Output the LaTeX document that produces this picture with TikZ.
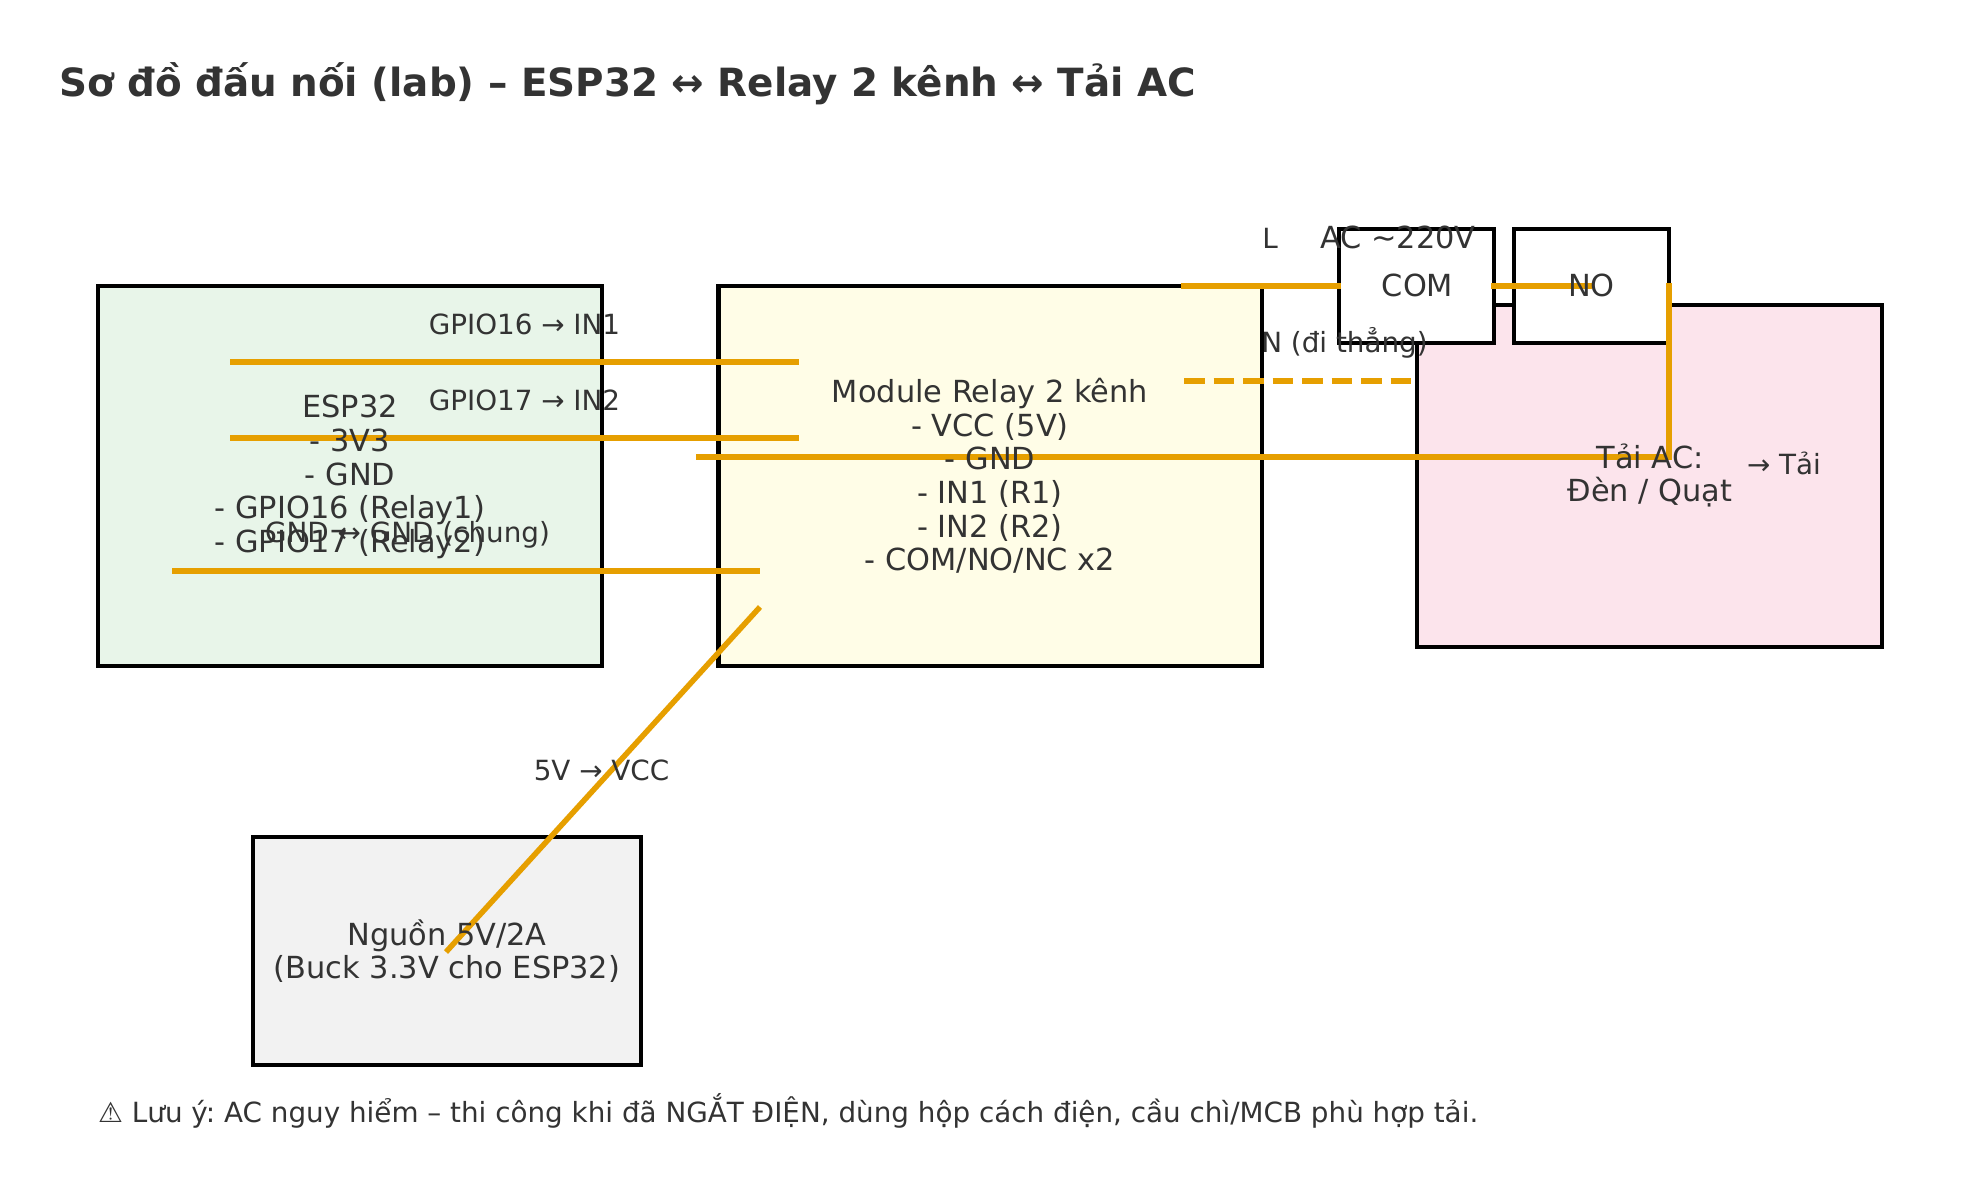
\documentclass[tikz,border=0pt]{standalone}
\usepackage{fontspec}
\setmainfont{DejaVu Sans}
\frenchspacing
\definecolor{ink}{HTML}{333333}
\definecolor{wirecol}{HTML}{E69F00}
\definecolor{espfill}{HTML}{E8F5E9}
\definecolor{relayfill}{HTML}{FFFDE7}
\definecolor{loadfill}{HTML}{FCE4EC}
\definecolor{powerfill}{HTML}{F2F2F2}
\tikzset{
  box/.style={draw=black,line width=4.8pt,inner sep=0pt,outer sep=0pt,anchor=north west,rectangle},
  wire/.style={draw=wirecol,line width=5.5pt,line cap=butt,line join=miter},
  neutral/.style={wire,dash pattern=on 20.5pt off 9pt},
  body/.style={text=ink,align=center,inner sep=0pt,font=\fontsize{30.4}{33.6}\selectfont},
  lab/.style={text=ink,inner sep=0pt,anchor=base,font=\fontsize{27.8}{33}\selectfont},
}
\newcommand{\boxat}[6]{\node[box,fill=#6,minimum width=#4pt-#2pt,minimum height=#5pt-#3pt] (#1) at (#2,#3) {};}
\begin{document}
\begin{tikzpicture}[x=1pt,y=-1pt]
\useasboundingbox (0,0) rectangle (1979,1180);
\fill[white] (0,0) rectangle (1979,1180);
% boxes
\boxat{esp}{98}{286}{602}{666}{espfill}
\boxat{relay}{718.5}{286}{1262}{666}{relayfill}
\boxat{load}{1417}{305}{1882}{647}{loadfill}
\boxat{com}{1339}{229}{1494}{343}{white}
\boxat{no}{1514}{229}{1669}{343}{white}
\boxat{power}{253}{837}{641}{1065}{powerfill}
% wire ends
\coordinate (g16a) at (230,362); \coordinate (g16b) at (799,362);
\coordinate (g17a) at (230,438); \coordinate (g17b) at (799,438);
\coordinate (gnda) at (172,571); \coordinate (gndb) at (760,571);
\coordinate (vcc) at (760,607); \coordinate (pwr) at (446,952);
\coordinate (loada) at (696,457); \coordinate (loadb) at (1669,283);
\coordinate (la) at (1181,286); \coordinate (lb) at (1341,286);
\coordinate (cna) at (1491,286); \coordinate (cnb) at (1592,286);
\coordinate (na) at (1184,381); \coordinate (nb) at (1411,381);
% wires
\draw[wire] (g16a) -- (g16b);
\draw[wire] (g17a) -- (g17b);
\draw[wire] (gnda) -- (gndb);
\draw[wire] (vcc) -- (pwr);
\draw[wire] (loada) -| (loadb);
\draw[wire] (la) -- (lb);
\draw[wire] (cna) -- (cnb);
\draw[neutral] (na) -- (nb);
% box labels
\node[body] (esptext) at (350,477) {ESP32\\- 3V3\\- GND\\- GPIO16 (Relay1)\\- GPIO17 (Relay2)};
\node[body] (relaytext) at (990,476) {Module Relay 2 kênh\\- VCC (5V)\\- GND\\- IN1 (R1)\\- IN2 (R2)\\- COM/NO/NC x2};
\node[body] (loadtext) at (1650,475.5) {Tải AC:\\Đèn / Quạt};
\node[body] (comtext) at (1417.5,285) {COM};
\node[body] (notext) at (1591.5,285) {NO};
\node[body] (powertext) at (447,951) {Nguồn 5V/2A\\(Buck 3.3V cho ESP32)};
% wire labels
\node[lab] (l16) at (524.5,334) {GPIO16 → IN1};
\node[lab] (l17) at (524.5,410.5) {GPIO17 → IN2};
\node[lab] (lgnd) at (407.5,542) {GND ↔ GND (chung)};
\node[lab] (l5v) at (601.5,780) {5V → VCC};
\node[lab] (ll) at (1270,248) {L};
\node[lab,font=\fontsize{30.4}{33.6}\selectfont] (lac) at (1398,248) {AC \textasciitilde220V};
\node[lab] (ln) at (1344.5,352) {N (đi thẳng)};
\node[lab] (ltai) at (1784,474) {→ Tải};
% title and note
\node[text=ink,inner sep=0pt,anchor=base west,font=\fontsize{38.85}{46}\selectfont\bfseries] (title) at (59,97) {Sơ đồ đấu nối (lab) – ESP32 ↔ Relay 2 kênh ↔ Tải AC};
\node[lab,anchor=base west,font=\fontsize{27.8}{33}\selectfont] (note) at (98,1122) {⚠ Lưu ý: AC nguy hiểm – thi công khi đã NGẮT ĐIỆN, dùng hộp cách điện, cầu chì/MCB phù hợp tải.};
\end{tikzpicture}
\end{document}
